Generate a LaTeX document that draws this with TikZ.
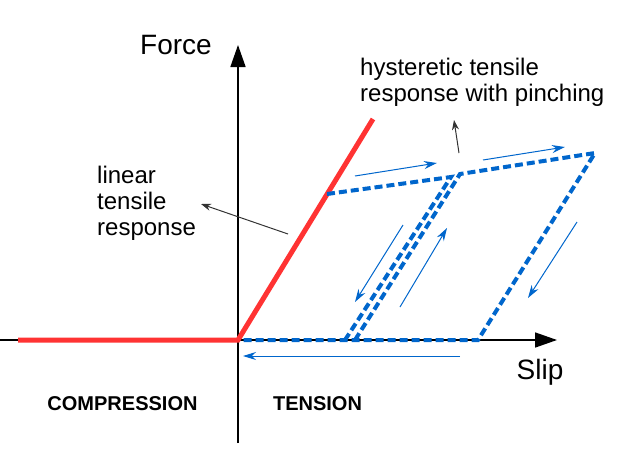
\documentclass[tikz,border=0pt]{standalone}
\usepackage{fontspec}
\setmainfont{Liberation Sans}
\definecolor{load}{RGB}{255,51,51}
\definecolor{cyc}{RGB}{0,102,204}
\definecolor{ink}{RGB}{51,51,51}
\usetikzlibrary{arrows.meta}
\tikzset{
  axis/.style={-{Triangle[length=22pt,width=15pt]}, line width=1.6pt, black},
  loadline/.style={load, line width=5pt},
  hyst/.style={cyc, line width=4pt, dash pattern=on 8pt off 4pt},
  flow/.style={-{Stealth[length=13pt,width=8pt]}, cyc, line width=1pt},
  pointer/.style={-{Stealth[length=10pt,width=7pt]}, ink, line width=1pt},
  lbl/.style={font=\fontsize{24}{26}\selectfont, align=left, inner sep=0pt, anchor=north west},
  axlbl/.style={font=\fontsize{28}{32}\selectfont, inner sep=0pt, anchor=base},
  side/.style={font=\fontsize{20}{22}\selectfont\bfseries, inner sep=0pt, anchor=base},
}

\begin{document}
\begin{tikzpicture}[x=1pt,y=-1pt]
    \useasboundingbox (0,0) rectangle (635,461);
    % axes
    \coordinate (O) at (238,340);
    \draw[line width=1.6pt] (238,443) -- (O);
    \draw[axis] (O) -- (238,45);
    \draw[axis] (0,340) -- (557,340);
    \node[axlbl] (force) at (176,54) {Force};
    \node[axlbl] (slip) at (540,379) {Slip};
    % linear tensile branch
    \coordinate (yield) at (327,194);
    \draw[loadline] (18,340) -- (O) -- (373,119);
    % hysteretic loops with pinching
    \coordinate (p1) at (451,177);
    \coordinate (p2) at (460,174);
    \coordinate (p3) at (595,153);
    \draw[hyst] (yield) -- (p1) -- (345,340);
    \draw[hyst] (355,340) -- (p2) -- (p3) -- (478,340) -- (240,340);
    % loading directions
    \draw[flow] (355,176) -- (437,163);
    \draw[flow] (483,160) -- (565,147);
    \draw[flow] (403,225) -- (355,302);
    \draw[flow] (400,307) -- (447,228);
    \draw[flow] (577,222) -- (528,298);
    \draw[flow] (460,356) -- (243,356);
    % annotations
    \node[lbl] (lin) at (97,166) {linear\\tensile\\response};
    \node[lbl] (hys) at (360,58) {hysteretic tensile\\response with pinching};
    \coordinate (linend) at (201,204);
    \coordinate (hysend) at (454,120);
    \draw[pointer] (288,234) -- (linend);
    \draw[pointer] (459,153) -- (hysend);
    \node[side] (comp) at (122.5,410) {COMPRESSION};
    \node[side] (tens) at (317.5,410) {TENSION};
\end{tikzpicture}
\end{document}
